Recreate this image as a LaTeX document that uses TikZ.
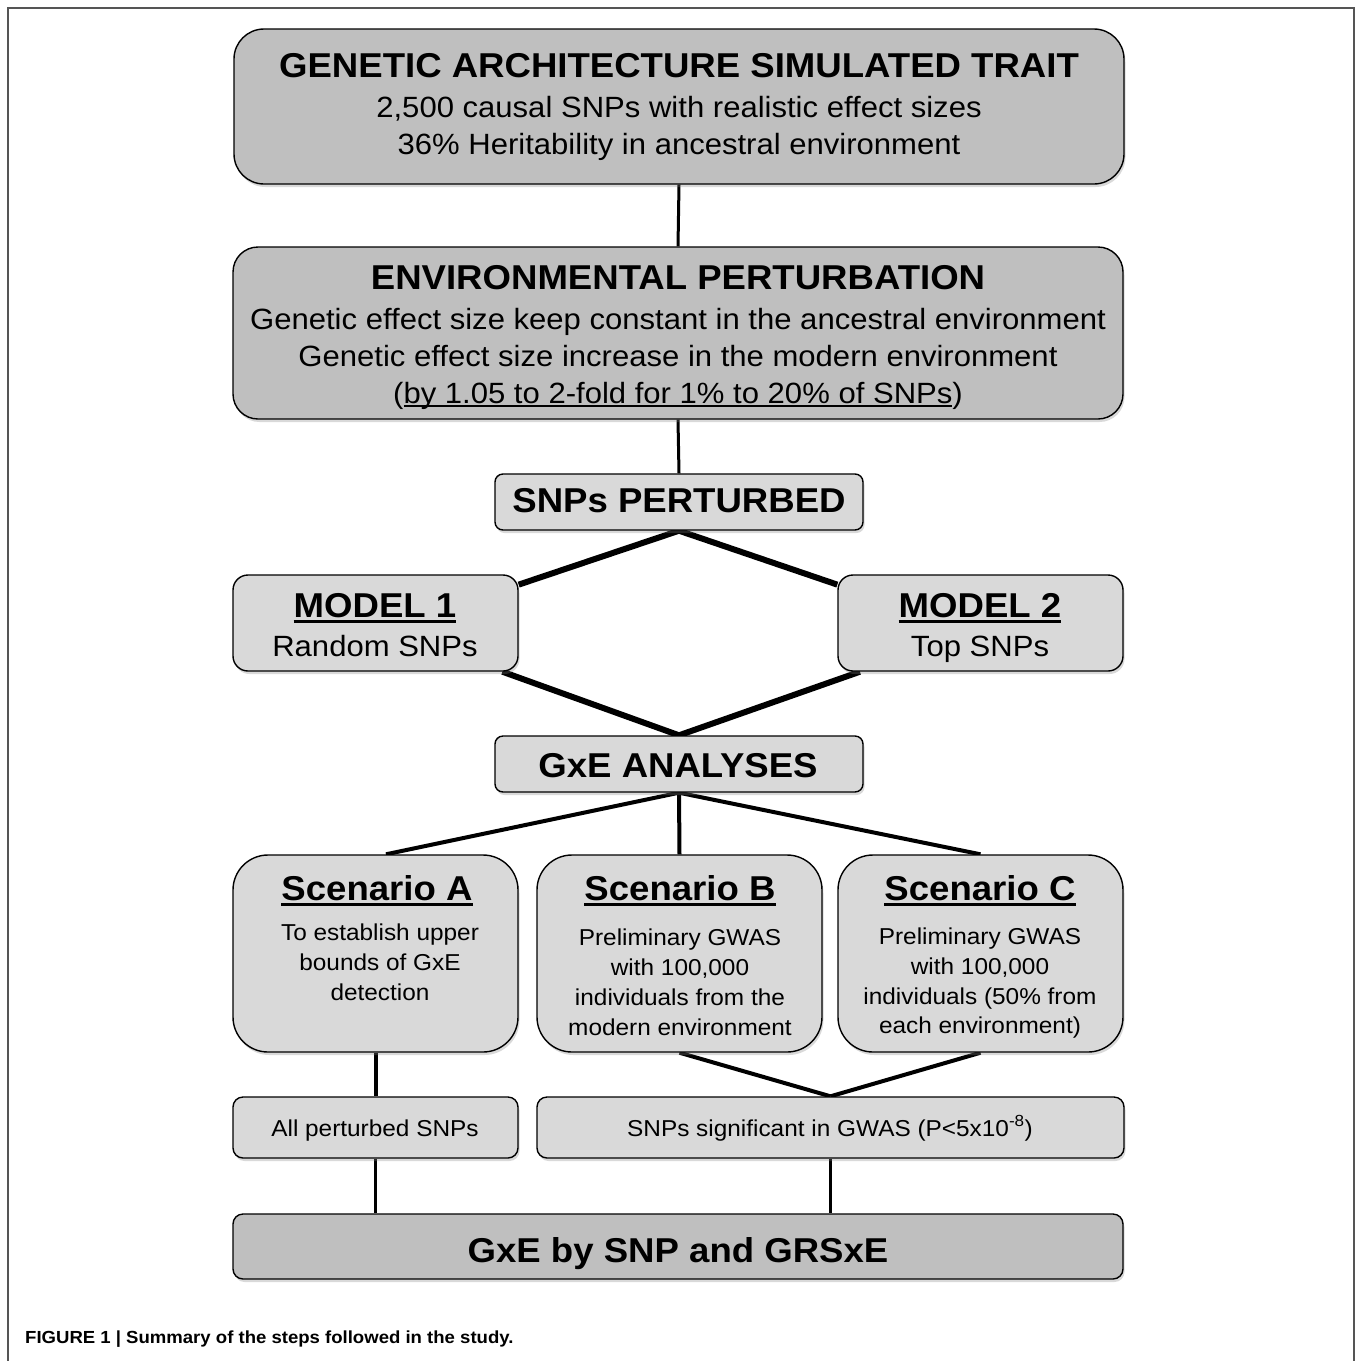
\documentclass[tikz,border=0pt]{standalone}
\usepackage{fontspec}
\setmainfont{Liberation Sans}[FakeStretch=1.06]
\usetikzlibrary{shadows,fit,backgrounds}
\definecolor{darkbox}{HTML}{BFBFBF}
\definecolor{lightbox}{HTML}{D9D9D9}
\definecolor{framegray}{HTML}{555555}
\newsavebox\ulbox
\newcommand\thul[3]{\sbox\ulbox{#1}\usebox\ulbox\llap{\rule[-#2]{\wd\ulbox}{#3}}}
\begin{document}
\begin{tikzpicture}[x=1pt,y=-1pt,
  box/.style={draw=black,line width=1.4pt,inner sep=0pt,
    drop shadow={shadow xshift=1.5pt,shadow yshift=-3pt,opacity=0.3}},
  dark/.style={box,fill=darkbox},
  light/.style={box,fill=lightbox},
  btitle/.style={anchor=base,inner sep=0pt,font=\fontsize{34.5}{40}\selectfont\bfseries},
  reg/.style={anchor=base,inner sep=0pt,font=\fontsize{29.3}{35}\selectfont},
  small/.style={anchor=base,inner sep=0pt,font=\fontsize{23}{28}\selectfont},
  conn/.style={line width=#1,black},
  conn/.default=3pt
]
\useasboundingbox (0,0) rectangle (1356,1361);
\draw[framegray,line width=1.5pt] (8,1361) -- (8,8) -- (1354,8) -- (1354,1361);

% boxes
\node[dark, rounded corners=30pt, fit={(234,29)(1124,184)}] (b1) {};
\node[dark, rounded corners=25pt, fit={(233,247)(1123,419)}] (b2) {};
\node[light, rounded corners=8pt, fit={(495,474)(863,530)}] (snp) {};
\node[light, rounded corners=15pt, fit={(233,575)(518,671)}] (m1) {};
\node[light, rounded corners=15pt, fit={(838,575)(1123,671)}] (m2) {};
\node[light, rounded corners=8pt, fit={(495,736)(863,792)}] (gxe) {};
\node[light, rounded corners=35pt, fit={(233,855)(518,1052)}] (sA) {};
\node[light, rounded corners=35pt, fit={(537,855)(822,1052)}] (sB) {};
\node[light, rounded corners=35pt, fit={(838,855)(1123,1052)}] (sC) {};
\node[light, rounded corners=10pt, fit={(233,1097)(518,1158)}] (allp) {};
\node[light, rounded corners=10pt, fit={(537,1097)(1124,1158)}] (sig) {};
\node[dark, rounded corners=10pt, fit={(233,1214)(1123,1279)}] (bot) {};

% connectors
\begin{scope}[on background layer]
\draw[conn] (b1.south) -- (b2.north);
\draw[conn] (b2.south) -- (snp.north);
\draw[conn=6pt] (snp.south) -- (m1.15);
\draw[conn=6pt] (snp.south) -- (m2.165);
\draw[conn=6pt] (m1.-21.8) -- (gxe.north);
\draw[conn=6pt] (m2.-158) -- (gxe.north);
\draw[conn=4pt] (gxe.south) -- (sA.84.5);
\draw[conn=4pt] (gxe.south) -- (sB.north);
\draw[conn=4pt] (gxe.south) -- (sC.north);
\draw[conn=4pt] (sA.south) -- (allp.north);
\draw[conn=4pt] (sB.south) -- (sig.north);
\draw[conn=4pt] (sC.south) -- (sig.north);
\draw[conn=3.5pt] (allp.south) -- (allp.south |- bot.north);
\draw[conn=3.5pt] (sig.south) -- (sig.south |- bot.north);
\end{scope}

% texts
\node[btitle] (t1) at (679,77) {GENETIC ARCHITECTURE SIMULATED TRAIT};
\node[reg] (t1a) at (679,117) {2,500 causal SNPs with realistic effect sizes};
\node[reg] (t1b) at (679,154) {36\% Heritability in ancestral environment};

\node[btitle] (t2) at (678,289) {ENVIRONMENTAL PERTURBATION};
\node[reg] (t2a) at (678,329) {Genetic effect size keep constant in the ancestral environment};
\node[reg] (t2b) at (678,366) {Genetic effect size increase in the modern environment};
\node[reg] (t2c) at (678,403) {(\thul{by 1.05 to 2-fold for 1\% to 20\% of SNPs}{4pt}{2pt})};

\node[btitle] (t3) at (679,512) {SNPs PERTURBED};

\node[btitle] (t4) at (375,617) {\thul{MODEL 1}{6pt}{3pt}};
\node[reg] (t4a) at (375,656) {Random SNPs};
\node[btitle] (t5) at (980,617) {\thul{MODEL 2}{6pt}{3pt}};
\node[reg] (t5a) at (980,656) {Top SNPs};

\node[btitle] (t6) at (678,777) {GxE ANALYSES};

\node[btitle] (t7) at (377,900) {\thul{Scenario A}{6pt}{3pt}};
\node[small] (t7a) at (380,940) {To establish upper};
\node[small] (t7b) at (380,970) {bounds of GxE};
\node[small] (t7c) at (380,1000) {detection};

\node[btitle] (t8) at (680,900) {\thul{Scenario B}{6pt}{3pt}};
\node[small] (t8a) at (680,945) {Preliminary GWAS};
\node[small] (t8b) at (680,975) {with 100,000};
\node[small] (t8c) at (680,1005) {individuals from the};
\node[small] (t8d) at (680,1035) {modern environment};

\node[btitle] (t9) at (980,900) {\thul{Scenario C}{6pt}{3pt}};
\node[small] (t9a) at (980,944) {Preliminary GWAS};
\node[small] (t9b) at (980,974) {with 100,000};
\node[small] (t9c) at (980,1004) {individuals (50\% from};
\node[small] (t9d) at (980,1033) {each environment)};

\node[small] (t10) at (375,1136) {All perturbed SNPs};
\node[small] (t11) at (830,1136) {SNPs significant in GWAS (P<5x10\textsuperscript{-8})};

\node[btitle] (t12) at (678,1262) {GxE by SNP and GRSxE};

\node[anchor=base west,inner sep=0pt,font=\fontsize{17.5}{21}\selectfont\bfseries] (cap) at (25,1343) {FIGURE 1 | Summary of the steps followed in the study.};
\end{tikzpicture}
\end{document}
